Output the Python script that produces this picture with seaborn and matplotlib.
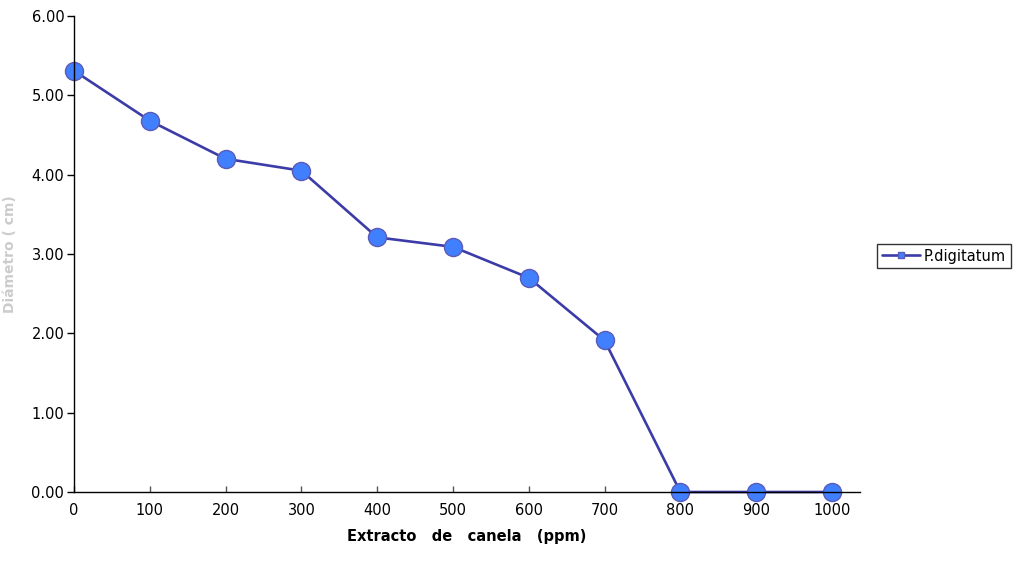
import matplotlib
matplotlib.use("Agg")
import matplotlib.pyplot as plt
import seaborn as sns
import pandas as pd
from matplotlib.lines import Line2D

sns.set_theme(style="white")
plt.rcParams['font.family'] = ['DejaVu Sans']
plt.rcParams['text.color'] = 'black'
plt.rcParams['xtick.color'] = 'black'
plt.rcParams['ytick.color'] = 'black'
plt.rcParams['axes.labelcolor'] = 'black'

# data
concentracion = [0, 100, 200, 300, 400, 500, 600, 700, 800, 900, 1000]
diametro = [5.31, 4.68, 4.20, 4.05, 3.21, 3.09, 2.70, 1.91, 0.0, 0.0, 0.0]
serie = "P.digitatum"

df = pd.DataFrame({"ppm": concentracion, "cm": diametro})

fig = plt.figure(figsize=(10.2, 5.63), dpi=100)
ax = fig.add_axes([74 / 1020, 71 / 563, 786 / 1020, 476 / 563])

line_col = "#3c3ca8"
face_col = "#4080ff"
edge_col = "#5a5ab8"

sns.lineplot(data=df, x="ppm", y="cm", ax=ax, color=line_col, linewidth=1.9,
             marker="o", markersize=13, markerfacecolor=face_col,
             markeredgecolor=edge_col, markeredgewidth=1.0, clip_on=False)

ax.set_xlim(0, 1037)
ax.set_ylim(0, 6)
ax.set_xticks(concentracion)
ax.set_yticks([0, 1, 2, 3, 4, 5, 6])
ax.set_yticklabels([f"{v:.2f}" for v in [0, 1, 2, 3, 4, 5, 6]])

for s in ["top", "right"]:
    ax.spines[s].set_visible(False)
for s in ["left", "bottom"]:
    ax.spines[s].set_color("black")
    ax.spines[s].set_linewidth(1.0)

ax.tick_params(axis="y", direction="out", length=5, width=1, color="black",
               labelsize=10.5, pad=2, left=True, labelcolor="black")
ax.tick_params(axis="x", direction="in", length=4, width=1, color="#555555",
               labelsize=10.5, pad=8, bottom=True, labelcolor="black")

ax.set_xlabel("Extracto   de   canela   (ppm)", fontsize=10.5, fontweight="bold",
              labelpad=8, color="black")
ax.set_ylabel("Diámetro ( cm)", fontsize=10, fontweight="bold",
              color="#cccccc")
ax.yaxis.set_label_coords(-57 / 786, 0.5)
ax.grid(False)

handle = Line2D([], [], color=line_col, linewidth=1.9, marker="s", markersize=5,
                markerfacecolor=face_col, markeredgecolor=edge_col)
fig.legend([handle], [serie], loc="center", bbox_to_anchor=(944 / 1020, 1 - 256 / 563),
           frameon=True, fancybox=False, edgecolor="black", fontsize=10.5,
           handlelength=2.6, borderpad=0.3, handletextpad=0.3, labelcolor="black")

fig.savefig("out.png", dpi=100)
